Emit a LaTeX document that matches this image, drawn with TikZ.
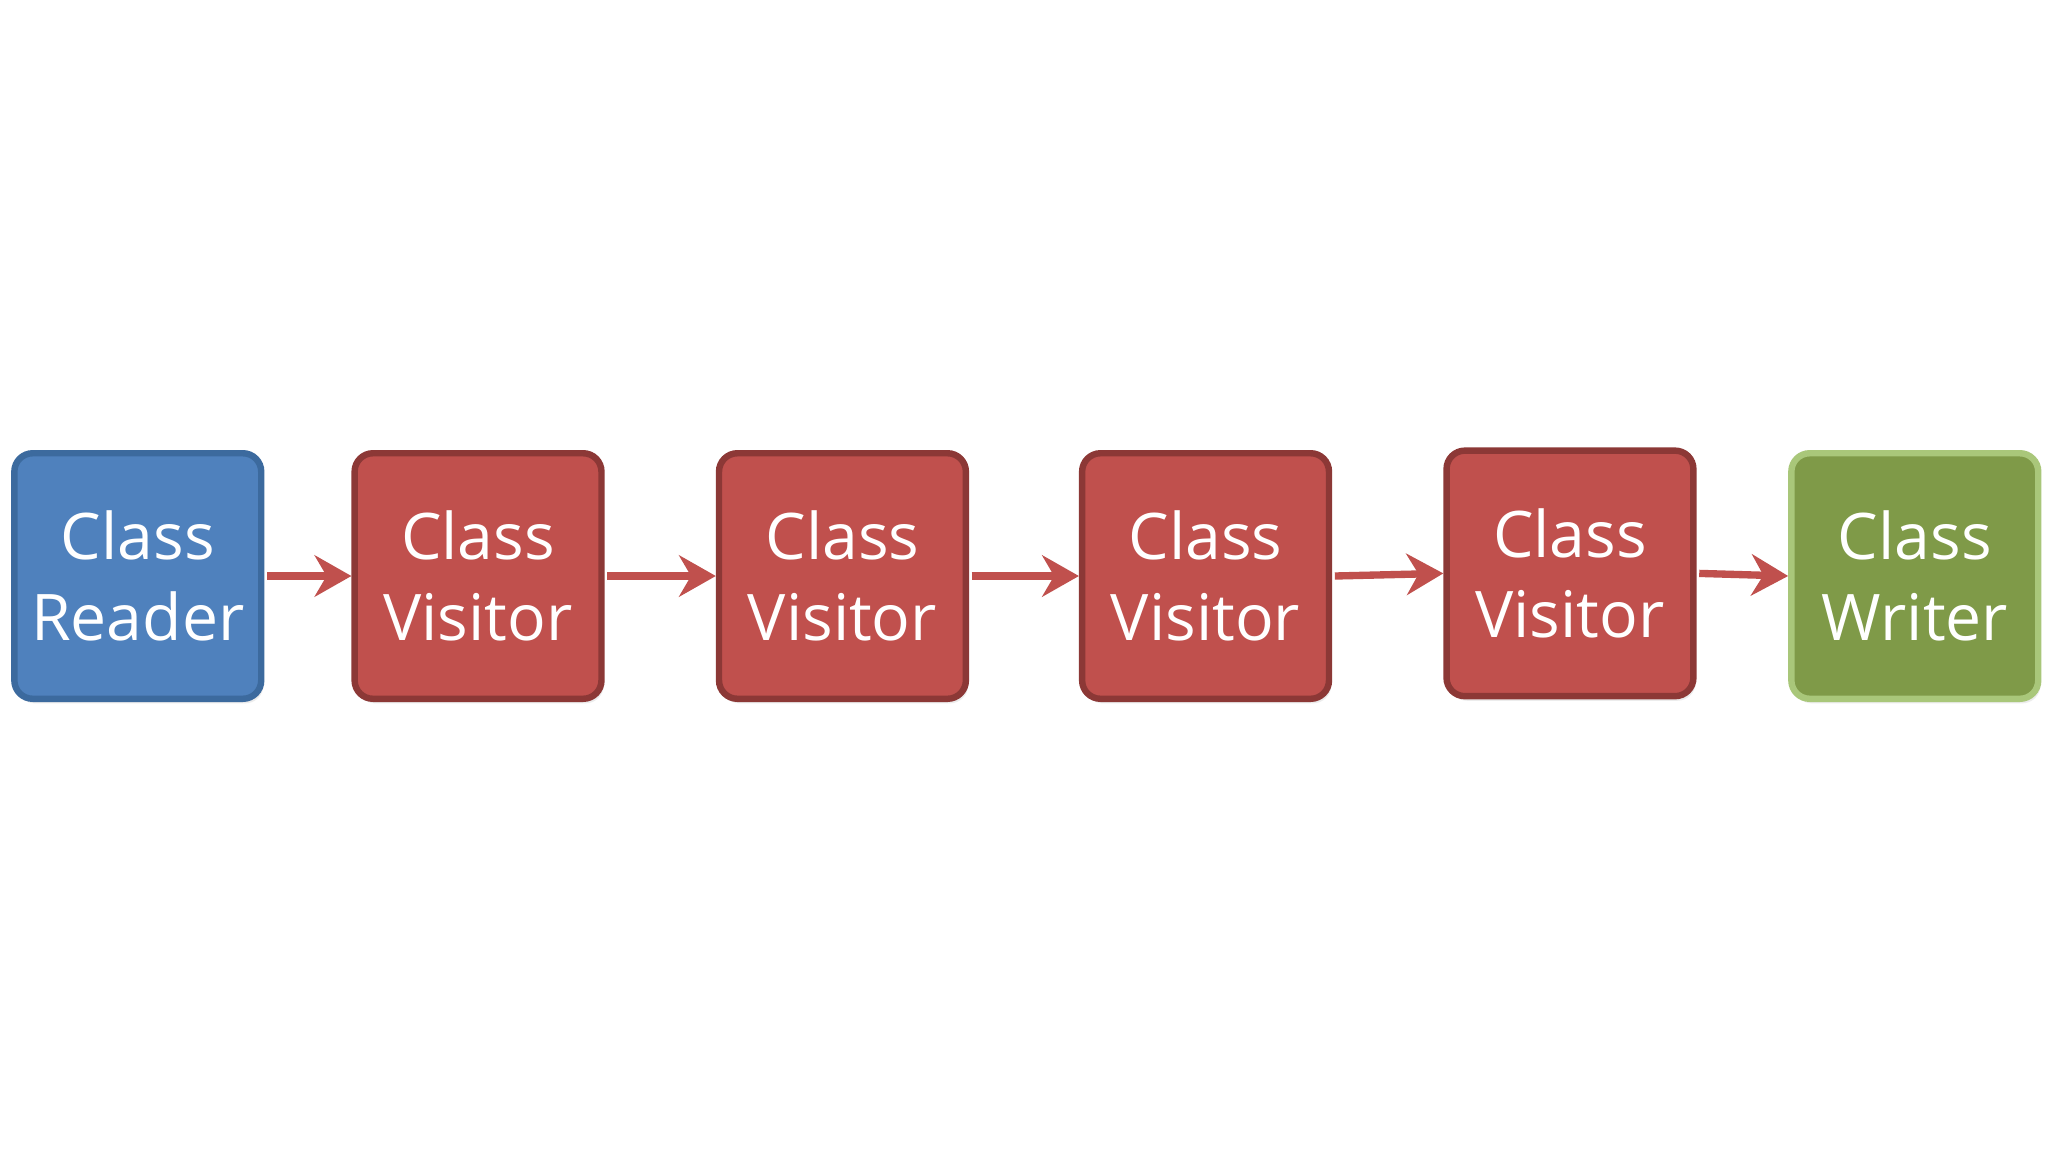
\documentclass[tikz,border=0pt]{standalone}
\usepackage{fontspec}
\setmainfont{Open Sans}
\usetikzlibrary{arrows.meta,shadows}
\definecolor{bfill}{HTML}{4F81BD}\definecolor{bdraw}{HTML}{3C6A9E}
\definecolor{rfill}{HTML}{C0504D}\definecolor{rdraw}{HTML}{8C3836}
\definecolor{gfill}{HTML}{7F9A48}\definecolor{gdraw}{HTML}{A9C77A}
\tikzset{
 box/.style={minimum width=1.89cm,minimum height=1.88cm,rounded corners=4pt,line width=1.4pt,
   text=white,align=center,font=\fontsize{14}{17.5}\selectfont,
   drop shadow={shadow xshift=0.5pt,shadow yshift=-1pt,opacity=0.15}},
 arr/.style={draw=rfill,line width=1.6pt,-{Stealth[length=8pt,width=9pt]}}
}
\begin{document}
\begin{tikzpicture}
\useasboundingbox[fill=white] (0,0) rectangle (15.68,8.82);
\node[box,fill=bfill,draw=bdraw] (r) at (1.055,4.41) {Class\\Reader};
\node[box,fill=rfill,draw=rdraw] (v1) at (3.66,4.41) {Class\\Visitor};
\node[box,fill=rfill,draw=rdraw] (v2) at (6.45,4.41) {Class\\Visitor};
\node[box,fill=rfill,draw=rdraw] (v3) at (9.23,4.41) {Class\\Visitor};
\node[box,fill=rfill,draw=rdraw] (v4) at (12.02,4.43) {Class\\Visitor};
\node[box,fill=gfill,draw=gdraw] (w) at (14.66,4.41) {Class\\Writer};
\draw[arr] (r.east) ++(0.02,0) -- (v1.west);
\draw[arr] (v1.east) ++(0.02,0) -- (v2.west);
\draw[arr] (v2.east) ++(0.02,0) -- (v3.west);
\draw[arr] (v3.east) ++(0.02,0) -- (v4.west);
\draw[arr] (v4.east) ++(0.02,0) -- (w.west);
\end{tikzpicture}
\end{document}
